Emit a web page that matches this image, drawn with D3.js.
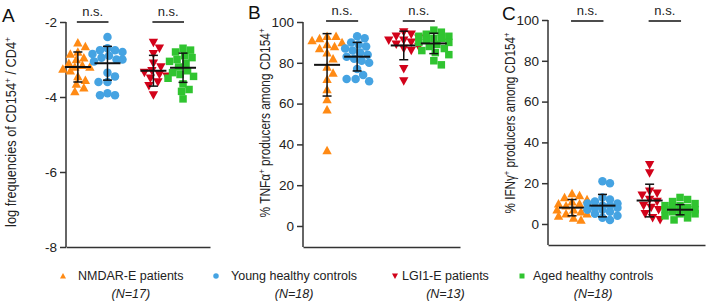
<!DOCTYPE html>
<html>
<head>
<meta charset="utf-8">
<script src="https://cdn.jsdelivr.net/npm/d3@7"></script>
<style>
  body { margin: 0; background: #fff; }
  svg { display: block; font-family: "Liberation Sans", Arial, sans-serif; }
</style>
</head>
<body>
<svg id="chart" width="708" height="304"></svg>
<script>
// ---------- data ----------
const groups = ["NMDAR-E patients", "Young healthy controls", "LGI1-E patients", "Aged healthy controls"];
const groupN = [17, 18, 13, 18];
const groupColors = ["#FF8A14", "#45A3E2", "#D2021A", "#30C430"];
const groupShapes = ["triangleUp", "circle", "triangleDown", "square"];

// Panel A: log frequencies of CD154+/CD4+
const aNMDAR = [-2.55, -2.65, -2.8, -2.85, -2.95, -3.0, -3.1, -3.15, -3.2, -3.2, -3.25, -3.3, -3.45, -3.55, -3.65, -3.75, -3.85];
const aYoung = [-2.4, -2.7, -2.75, -2.75, -2.8, -2.85, -2.9, -2.95, -3.0, -3.0, -3.05, -3.35, -3.45, -3.6, -3.6, -3.9, -3.95, -3.95];
const aLGI1  = [-2.55, -2.7, -2.85, -3.1, -3.2, -3.3, -3.35, -3.4, -3.45, -3.5, -3.6, -3.7, -3.95];
const aAged  = [-2.7, -2.75, -2.8, -2.9, -2.95, -3.0, -3.05, -3.1, -3.2, -3.3, -3.35, -3.4, -3.45, -3.5, -3.65, -3.8, -3.85, -4.05];
const aMean = [-3.2, -3.1, -3.3, -3.22];
const aSD   = [0.4, 0.45, 0.41, 0.39];

// Panel B: % TNFa+ producers among CD154+
const bNMDAR = [37, 57, 62, 67, 72, 75, 78, 82, 85, 87, 88, 89, 90, 91, 92, 93, 93];
const bYoung = [71, 72, 72, 74, 77, 80, 81, 82, 83, 84, 85, 86, 87, 88, 89, 90, 92, 93];
const bLGI1  = [71, 77, 86, 87, 88, 89, 90, 91, 91, 92, 93, 94, 95];
const bAged  = [79, 81, 84, 85, 86, 87, 88, 89, 90, 90, 91, 92, 92, 93, 93, 94, 95, 96];
const bMean = [79, 83, 88.5, 89.5];
const bSD   = [15.3, 7, 7, 5];

// Panel C: % IFNg+ producers among CD154+
const cNMDAR = [2, 3, 4, 5, 5, 6, 7, 7, 8, 9, 10, 10, 11, 12, 13, 14, 15];
const cYoung = [2, 3, 4, 5, 6, 7, 7, 8, 8, 9, 9, 10, 10, 11, 12, 13, 20, 21];
const cLGI1  = [2, 3, 5, 7, 8, 9, 11, 12, 14, 15, 16, 25, 29];
const cAged  = [2, 3, 4, 5, 5, 6, 6, 7, 7, 7, 8, 8, 9, 9, 10, 11, 12, 13];
const cMean = [8, 9, 11.5, 7];
const cSD   = [4, 5.5, 8, 2.5];

const aTicks = [-2, -4, -6, -8];
const bTicks = [0, 20, 40, 60, 80, 100];
const cTicks = [0, 20, 40, 60, 80, 100];
const sigLabel = "n.s.";

// ---------- layout ----------
const panels = [
  { letter: "A", letterX: 2, letterY: 22,
    series: [aNMDAR, aYoung, aLGI1, aAged], mean: aMean, sd: aSD, ticks: aTicks,
    yDomain: [-8, -2], yRange: [247, 22], xDomain: [-0.4, 4.46], xRange: [66, 210],
    sigY: 22, label: [["log frequencies of CD154", false], ["+", true], [" / CD4", false], ["+", true]],
    labelX: 16, labelY: 132, labelLen: 190, tickFmt: d => "-" + Math.abs(d) },
  { letter: "B", letterX: 248, letterY: 19,
    series: [bNMDAR, bYoung, bLGI1, bAged], mean: bMean, sd: bSD, ticks: bTicks,
    yDomain: [-10.3, 100], yRange: [247, 22], xDomain: [-0.8, 4.42], xRange: [303, 460],
    sigY: 21, label: [["% TNF\u03B1", false], ["+", true], [" producers among CD154", false], ["+", true]],
    labelX: 270, labelY: 123, labelLen: 189, tickFmt: d => d },
  { letter: "C", letterX: 502, letterY: 20,
    series: [cNMDAR, cYoung, cLGI1, cAged], mean: cMean, sd: cSD, ticks: cTicks,
    yDomain: [-10.3, 100], yRange: [245, 20], xDomain: [-0.79, 4.37], xRange: [548, 705],
    sigY: 21, label: [["% IFN\u03B3", false], ["+", true], [" producers among CD154", false], ["+", true]],
    labelX: 515, labelY: 123, labelLen: 181, tickFmt: d => d }
];

const slot = i => i + (i >= 2 ? 0.55 : 0);
const svg = d3.select("#chart");

function symbolPath(shape, size) {
  const s = size;
  if (shape === "triangleUp") return `M0,${-s*0.55}L${s*0.55},${s*0.45}L${-s*0.55},${s*0.45}Z`;
  if (shape === "triangleDown") return `M0,${s*0.55}L${s*0.55},${-s*0.45}L${-s*0.55},${-s*0.45}Z`;
  if (shape === "square") return `M${-s/2},${-s/2}h${s}v${s}h${-s}Z`;
  const r = s / 2;
  return `M${r},0A${r},${r},0,1,1,${-r},0A${r},${r},0,1,1,${r},0Z`;
}

function swarm(values, y, cx, minDist, step, maxOff) {
  const pts = values.map(v => ({ v, y: y(v) })).sort((a, b) => a.y - b.y);
  const placed = [];
  pts.forEach(p => {
    let best = null, bestScore = Infinity;
    for (let k = 0; k < 80; k++) {
      const off = (k % 2 ? 1 : -1) * Math.ceil(k / 2) * step;
      if (Math.abs(off) > maxOff) break;
      const ok = placed.every(q => Math.hypot(q.x - (cx + off), q.y - p.y) >= minDist);
      if (ok) { best = off; break; }
      const score = placed.reduce((s, q) => s + Math.max(0, minDist - Math.hypot(q.x - (cx + off), q.y - p.y)), 0);
      if (score < bestScore) { bestScore = score; best = off; }
    }
    p.x = cx + best;
    placed.push(p);
  });
  return placed;
}

panels.forEach(P => {
  const g = svg.append("g");
  const y = d3.scaleLinear().domain(P.yDomain).range(P.yRange);
  const x = d3.scaleLinear().domain(P.xDomain).range(P.xRange);

  // y axis
  const yAxis = g.append("g").attr("transform", `translate(${P.xRange[0]},0)`)
    .call(d3.axisLeft(y).tickValues(P.ticks).tickFormat(P.tickFmt).tickSize(6).tickPadding(3).tickSizeOuter(0));
  yAxis.select(".domain").attr("stroke", "#333").attr("stroke-width", 1.5)
    .attr("d", `M0,${P.yRange[1]}V${P.yRange[0]}`);
  yAxis.selectAll(".tick line").attr("stroke", "#333").attr("stroke-width", 1.5);
  yAxis.selectAll(".tick text").attr("font-size", 13.5).attr("fill", "#222")
    .attr("font-family", "'Liberation Sans', Arial, sans-serif");

  // x axis line
  g.append("g").attr("transform", `translate(0,${P.yRange[0]})`)
    .call(d3.axisBottom(x).tickValues([]).tickSizeOuter(0))
    .select(".domain").attr("stroke", "#333").attr("stroke-width", 1.5);

  // y label (tall glyphs, condensed to the reference length)
  const lab = g.append("text")
    .attr("text-anchor", "middle").attr("font-size", 13.8).attr("fill", "#222");
  P.label.forEach(([t, sup]) => {
    const ts = lab.append("tspan").text(t);
    if (sup) ts.attr("baseline-shift", "super").attr("font-size", 9);
  });
  const len = lab.node().getComputedTextLength();
  lab.attr("transform", `translate(${P.labelX},${P.labelY}) rotate(-90) scale(${P.labelLen / len},1)`);

  // panel letter
  g.append("text").attr("x", P.letterX).attr("y", P.letterY)
    .attr("font-size", 19).attr("fill", "#111").text(P.letter);

  // points
  P.series.forEach((vals, i) => {
    const cx = x(slot(i));
    const pts = swarm(vals, y, cx, 7.6, 1.5, 15);
    g.append("g").selectAll("path").data(pts).join("path")
      .attr("transform", d => `translate(${d.x},${d.y})`)
      .attr("d", symbolPath(groupShapes[i], groupShapes[i] === "square" ? 7.5 : 8.5))
      .attr("fill", groupColors[i]);

    // mean and SD
    const m = P.mean[i], s = P.sd[i];
    const eb = g.append("g").attr("stroke", "#111");
    eb.append("line").attr("x1", cx).attr("x2", cx).attr("y1", y(m + s)).attr("y2", y(m - s)).attr("stroke-width", 1.5);
    [m + s, m - s].forEach(v => eb.append("line").attr("x1", cx - 4.5).attr("x2", cx + 4.5)
      .attr("y1", y(v)).attr("y2", y(v)).attr("stroke-width", 1.5));
    eb.append("line").attr("x1", cx - 13).attr("x2", cx + 13).attr("y1", y(m)).attr("y2", y(m)).attr("stroke-width", 2);
  });

  // significance bars
  [[0, 1], [2, 3]].forEach(([a, b]) => {
    const x1 = x(slot(a)) - 1, x2 = x(slot(b)) + 1;
    g.append("line").attr("x1", x1).attr("x2", x2).attr("y1", P.sigY).attr("y2", P.sigY)
      .attr("stroke", "#111").attr("stroke-width", 1.5);
    g.append("text").attr("x", (x1 + x2) / 2).attr("y", P.sigY - 6.5)
      .attr("text-anchor", "middle").attr("font-size", 13).attr("fill", "#222").text(sigLabel);
  });
});

// ---------- legend ----------
const legendX = [63, 216, 395, 522];
const legendTextX = [78, 231, 402, 533];
const legend = svg.append("g");
groups.forEach((name, i) => {
  legend.append("path").attr("transform", `translate(${legendX[i]},276)`)
    .attr("d", symbolPath(groupShapes[i], groupShapes[i] === "square" ? 5 : 5.5))
    .attr("fill", groupColors[i]);
  const t = legend.append("text").attr("x", legendTextX[i]).attr("y", 280)
    .attr("font-size", 12.5).attr("fill", "#222").text(name);
  const w = t.node().getComputedTextLength();
  const nt = legend.append("text").attr("x", legendTextX[i] + w / 2).attr("y", 298)
    .attr("text-anchor", "middle").attr("font-size", 12.5).attr("fill", "#222").attr("font-style", "italic");
  nt.append("tspan").text("(");
  nt.append("tspan").text("N");
  nt.append("tspan").text("=" + groupN[i] + ")");
});
</script>
</body>
</html>
